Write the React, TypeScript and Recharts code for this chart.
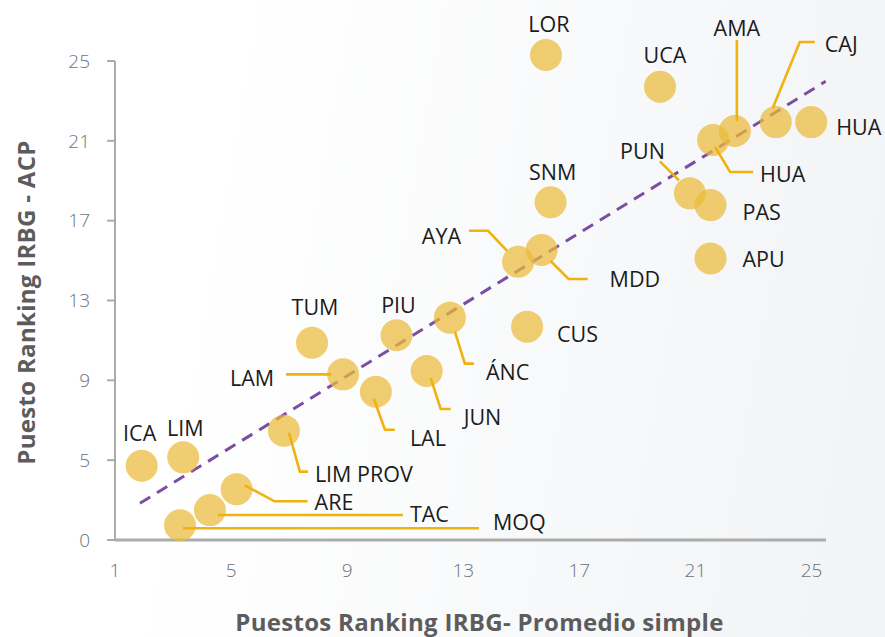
import React from 'react';
import { ScatterChart, Scatter, XAxis, YAxis, Label, ReferenceLine } from 'recharts';

// region codes, average ranking (x) and ACP ranking (y)
const regions = [
  'ICA', 'LIM', 'LIM PROV', 'ARE', 'TAC', 'MOQ', 'TUM', 'LAM', 'PIU', 'LAL',
  'JUN', 'ÁNC', 'CUS', 'AYA', 'MDD', 'SNM', 'LOR', 'UCA', 'PUN', 'AMA',
  'HUA', 'CAJ', 'HUA', 'PAS', 'APU',
];
const avgRank = [
  1.92, 3.35, 6.82, 5.19, 4.27, 3.24, 7.79, 8.86, 10.7, 9.99,
  11.74, 12.54, 15.2, 14.89, 15.7, 16.01, 15.85, 19.78, 20.81, 22.36,
  21.61, 23.77, 24.99, 21.52, 21.52,
];
const acpRank = [
  4.72, 5.14, 6.48, 3.54, 2.5, 1.74, 10.88, 9.3, 11.26, 8.43,
  9.47, 12.14, 11.69, 14.94, 15.53, 17.92, 25.3, 23.71, 18.37, 21.49,
  21.04, 21.94, 21.94, 17.78, 15.11,
];

// fitted trend line end points
const trendX = [1.86, 25.49];
const trendY = [2.84, 23.98];

const xTicks = [1, 5, 9, 13, 17, 21, 25];
const yTicks = [1, 5, 9, 13, 17, 21, 25];
const yTickLabels = ['0', '5', '9', '13', '17', '21', '25'];

type Anchor = 'start' | 'middle' | 'end';
type LabelPlacement = { anchor: Anchor; dx: number; dy: number; leader?: [number, number][] };

// label placement (pixels, relative to each bubble), same order as regions
const placements: LabelPlacement[] = [
  { anchor: 'middle', dx: -2, dy: -33 },
  { anchor: 'middle', dx: 2, dy: -30 },
  { anchor: 'start', dx: 31, dy: 43, leader: [[5, 2], [16, 41], [24, 41]] },
  { anchor: 'start', dx: 78, dy: 12, leader: [[8, -4], [38, 12], [71, 12]] },
  { anchor: 'start', dx: 200, dy: 3, leader: [[8, 5], [193, 5]] },
  { anchor: 'start', dx: 313, dy: -4, leader: [[3, 3], [299, 3]] },
  { anchor: 'middle', dx: 3, dy: -36 },
  { anchor: 'end', dx: -69, dy: 3, leader: [[-57, 0], [-12, 0]] },
  { anchor: 'middle', dx: 2, dy: -31 },
  { anchor: 'start', dx: 34, dy: 46, leader: [[-2, 7], [9, 38], [19, 38]] },
  { anchor: 'start', dx: 37, dy: 46, leader: [[4, 7], [14, 38], [24, 38]] },
  { anchor: 'start', dx: 36, dy: 54, leader: [[5, 14], [15, 46], [24, 46]] },
  { anchor: 'start', dx: 30, dy: 7 },
  { anchor: 'end', dx: -57, dy: -26, leader: [[-49, -31], [-30, -31], [-11, -11]] },
  { anchor: 'start', dx: 68, dy: 29, leader: [[9, 11], [27, 29], [46, 29]] },
  { anchor: 'middle', dx: 2, dy: -31 },
  { anchor: 'middle', dx: 3, dy: -32 },
  { anchor: 'middle', dx: 5, dy: -32 },
  { anchor: 'end', dx: -25, dy: -43, leader: [[-30, -32], [-11, -13]] },
  { anchor: 'middle', dx: 2, dy: -104, leader: [[2, -91], [2, -10]] },
  { anchor: 'start', dx: 47, dy: 33, leader: [[2, 7], [17, 32], [40, 32]] },
  { anchor: 'start', dx: 49, dy: -79, leader: [[39, -80], [24, -80], [-3, -14]] },
  { anchor: 'start', dx: 25, dy: 4 },
  { anchor: 'start', dx: 32, dy: 6 },
  { anchor: 'start', dx: 32, dy: 0 },
];

const points = regions.map((name, i) => ({ name, idx: i, x: avgRank[i], y: acpRank[i] }));
const trend = trendX.map((x, i) => ({ x, y: trendY[i] }));

const FONT = '"Open Sans", sans-serif';
const LEADER = '#efb211';
const AXIS = '#ababab';

const Bubble = (props: any) => {
  const { cx, cy } = props;
  return <circle cx={cx} cy={cy} r={16} fill="#ecba3a" fillOpacity={0.72} />;
};

const RegionLabel = (props: any) => {
  const { cx, cy, payload } = props;
  const p = placements[payload.idx];
  return (
    <g>
      {p.leader && (
        <polyline
          points={p.leader.map(([dx, dy]) => `${cx + dx},${cy + dy}`).join(' ')}
          fill="none"
          stroke={LEADER}
          strokeWidth={2.6}
        />
      )}
      <text
        x={cx + p.dx}
        y={cy + p.dy}
        textAnchor={p.anchor}
        dominantBaseline="central"
        fontFamily={FONT}
        fontSize={21.5}
        fill="#1c1c1c"
      >
        {payload.name}
      </text>
    </g>
  );
};

export default function App() {
  return (
    <div
      style={{
        position: 'absolute',
        left: 0,
        top: 0,
        width: 885,
        height: 637,
        background: 'linear-gradient(100deg, #ffffff 25%, #f1f3f5 100%)',
      }}
    >
      <ScatterChart width={885} height={637} margin={{ top: 55, right: 59, bottom: 57, left: 0 }}>
        <XAxis
          type="number"
          dataKey="x"
          domain={[1, 25.5]}
          ticks={xTicks}
          height={40}
          tickSize={0}
          tickMargin={24}
          axisLine={{ stroke: AXIS, strokeWidth: 3 }}
          tick={{ fill: '#6a737d', fontSize: 19, fontFamily: FONT, fontWeight: 300 }}
        >
          <Label
            content={(lp: any) => {
              const vb = lp.viewBox;
              return (
                <text
                  x={vb.x + vb.width / 2 + 9}
                  y={vb.y + 81}
                  textAnchor="middle"
                  dominantBaseline="central"
                  fontFamily={FONT}
                  fontWeight={700}
                  fontSize={24}
                  letterSpacing={0.3}
                  fill="#5c5c5c"
                >
                  Puestos Ranking IRBG- Promedio simple
                </text>
              );
            }}
          />
        </XAxis>
        <YAxis
          type="number"
          dataKey="y"
          domain={[1, 25.3]}
          ticks={yTicks}
          width={115}
          tickSize={8}
          tickMargin={17}
          tickFormatter={(v: number) => yTickLabels[yTicks.indexOf(v)]}
          axisLine={false}
          tickLine={{ stroke: AXIS, strokeWidth: 2 }}
          tick={{ fill: '#6a737d', fontSize: 19, fontFamily: FONT, fontWeight: 300 }}
        >
          <Label
            content={(lp: any) => {
              const vb = lp.viewBox;
              const cy = vb.y + vb.height / 2 + 5;
              return (
                <text
                  x={25}
                  y={cy}
                  transform={`rotate(-90 25 ${cy})`}
                  textAnchor="middle"
                  dominantBaseline="central"
                  fontFamily={FONT}
                  fontWeight={700}
                  fontSize={24}
                  letterSpacing={0.3}
                  fill="#5c5c5c"
                >
                  Puesto Ranking IRBG - ACP
                </text>
              );
            }}
          />
        </YAxis>
        {/* vertical axis line stops at the top tick */}
        <ReferenceLine
          segment={[
            { x: 1, y: yTicks[0] },
            { x: 1, y: yTicks[yTicks.length - 1] },
          ]}
          stroke={AXIS}
          strokeWidth={2}
        />
        <Scatter
          data={trend}
          line={{ stroke: '#7a4fa3', strokeWidth: 3, strokeDasharray: '12 8' }}
          shape={() => <g />}
          isAnimationActive={false}
        />
        <Scatter data={points} shape={Bubble} isAnimationActive={false} />
        <Scatter data={points} shape={RegionLabel} isAnimationActive={false} />
      </ScatterChart>
    </div>
  );
}
